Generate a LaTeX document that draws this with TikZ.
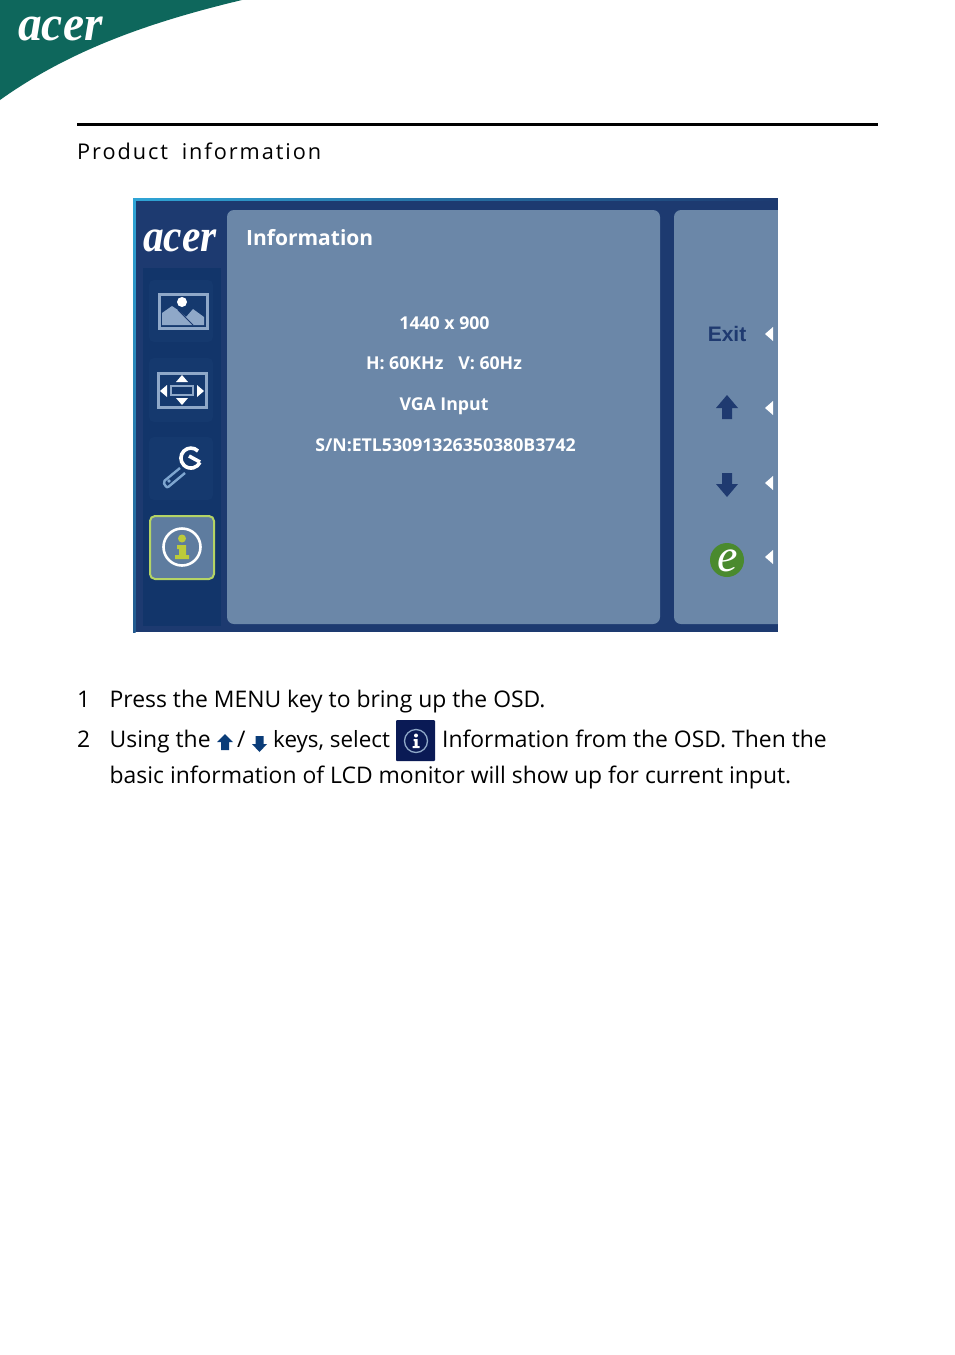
\documentclass[tikz,border=0pt]{standalone}
\usepackage{fontspec}
\setmainfont{Open Sans}
\newfontfamily\spacedfont[LetterSpace=9,WordSpace=1.8]{Open Sans}
\newfontfamily\logofont{Liberation Serif}
\newfontfamily\exitfont{Liberation Sans}
\definecolor{acergreen}{HTML}{0E675C}
\definecolor{osdnavy}{HTML}{1D3A70}
\definecolor{osdside}{HTML}{12356A}
\definecolor{osdtile}{HTML}{15396E}
\definecolor{osdpanel}{HTML}{6B87A8}
\definecolor{osdedge}{HTML}{2FA5D6}
\definecolor{osdicon}{HTML}{8FA8C8}
\definecolor{osdwrench}{HTML}{7EA6D0}
\definecolor{osdlime}{HTML}{B4D465}
\definecolor{osdyellow}{HTML}{BCCB3A}
\definecolor{osdinfo}{HTML}{5E7C9F}
\definecolor{osdarrow}{HTML}{1F3A70}
\definecolor{keyarrow}{HTML}{0A3C78}
\definecolor{keybox}{HTML}{0A1A55}
\definecolor{egreen}{HTML}{4A8A2E}
\begin{document}
\begin{tikzpicture}[x=1pt,y=-1pt]
\tikzstyle{every node}+=[inner sep=0pt]
\tikzstyle{bodytext}=[anchor=base west,font=\fontsize{22.9}{26}\selectfont]
\tikzstyle{osdtext}=[anchor=base,text=white,font=\fontsize{17.7}{20}\selectfont\bfseries]
\tikzstyle{osdrim}=[draw=osdicon,line width=3pt]
\useasboundingbox (0,0) rectangle (954,1355);
\fill [white] (0,0) rectangle (954,1355);
\fill [acergreen] (0,0) -- (242,0) .. controls (150,22) and (70,50) .. (0,100) -- cycle;
\node (headlogo) [anchor=base west,text=white,xscale=.95,font=\fontsize{50}{50}\selectfont\logofont\itshape\bfseries] at (18,40) {acer};
\draw [black,line width=2.5pt] (77,124.5) -- (878,124.5);
\node (title) [anchor=base west,font=\fontsize{21.7}{26}\selectfont\spacedfont] at (77,159) {Product information};
\fill [osdnavy] (133,198) rectangle (778,632);
\shade [left color=osdedge,right color=osdnavy] (133,198) rectangle (778,200);
\shade [top color=osdedge,bottom color=osdnavy!70!osdedge] (133,198) rectangle (135.5,632);
\fill [osdside] (143,268) rectangle (221,626);
\fill [osdtile,rounded corners=5pt] (149,280) rectangle (213,342);
\fill [osdtile,rounded corners=5pt] (149,358) rectangle (213,422);
\fill [osdtile,rounded corners=5pt] (149,437) rectangle (213,500);
\fill [osdpanel,rounded corners=7pt] (227,210) rectangle (660,624);
\fill [osdpanel] (781,210) -- (781,624) [rounded corners=7pt] -- (674,624) -- (674,210) [sharp corners] -- cycle;
\fill [white] (778,198) rectangle (782,632);
\node (osdlogo) [anchor=base west,text=white,xscale=.9,font=\fontsize{46}{46}\selectfont\logofont\itshape\bfseries] at (143,251) {acer};
\fill [osdicon] (162,313) -- (172,306) -- (178,310) -- (186,317) -- (193,309) -- (204,317) -- (204,325) -- (162,325) -- cycle;
\draw [osdnavy,line width=1pt] (178,310) -- (193,325);
\fill [white] (182,302) circle (5);
\draw [osdrim] (159,294) rectangle (207,328);
\draw [osdrim] (158,373) rectangle (206,407);
\draw [osdicon,line width=2.4pt] (171,386) rectangle (193,395);
\fill [white] (182,375) -- (188,382) -- (176,382) -- cycle;
\fill [white] (182,405) -- (188,398) -- (176,398) -- cycle;
\fill [white] (160,391) -- (167,385) -- (167,397) -- cycle;
\fill [white] (204,391) -- (197,385) -- (197,397) -- cycle;
\draw [white,line width=3.6pt] (198,451) arc (-45:-335:10);
\draw [white,line width=3.6pt] (189,456) -- (200,462);
\draw [osdwrench,line width=2.4pt,rounded corners=2pt] (180,468) -- (163,482) -- (167,488) -- (185,473);
\fill [osdwrench] (169,481) circle (1.8);
\draw [osdlime,line width=2pt,fill=osdinfo,rounded corners=5pt] (150,516) rectangle (214,579);
\draw [white,line width=2.6pt] (182,547) circle (18.5);
\fill [osdyellow] (182,538.5) circle (4);
\fill [osdyellow] (177,545) -- (186,545) -- (186,555) -- (189,555) -- (189,559) -- (175,559) -- (175,555) -- (179,555) -- (179,549) -- (177,549) -- cycle;
\node (osdhead) [anchor=base west,text=white,font=\fontsize{21}{26}\selectfont\bfseries] at (246,245) {Information};
\node (osdres) [osdtext] at (444.5,329) {1440 x 900};
\node (osdfreq) [osdtext] at (444,369) {H: 60KHz\hspace{15pt}V: 60Hz};
\node (osdinput) [osdtext] at (444,410) {VGA Input};
\node (osdserial) [osdtext] at (445.5,451) {S/N:ETL53091326350380B3742};
\node (osdexit) [anchor=base,text=osdarrow,font=\fontsize{21}{26}\selectfont\exitfont\bfseries] at (727,341) {Exit};
\fill [osdarrow] (727,395) -- (738,408) -- (732,408) -- (732,419) -- (722,419) -- (722,408) -- (716,408) -- cycle;
\fill [osdarrow] (727,497) -- (738,484) -- (732,484) -- (732,473) -- (722,473) -- (722,484) -- (716,484) -- cycle;
\fill [egreen] (727,560) circle (17);
\node (osde) [text=white,font=\fontsize{46}{46}\selectfont\logofont\itshape] at (728,561) {e};
\foreach \tipy in {334,408,483,557}
  \fill [white] (765,\tipy) -- (773,\tipy-7) -- (773,\tipy+7) -- cycle;
\node (stepone) [bodytext] at (77,707) {1};
\node (steponetext) [bodytext] at (109.5,707) {Press the MENU key to bring up the OSD.};
\node (steptwo) [bodytext] at (77,747) {2};
\node (usingthe) [bodytext] at (109.5,747) {Using the};
\fill [keyarrow] (225,734) -- (233,742) -- (229,742) -- (229,750) -- (221,750) -- (221,742) -- (217,742) -- cycle;
\node (slash) [bodytext] at (237,747) {/};
\fill [keyarrow] (259.5,752) -- (267,744) -- (263.5,744) -- (263.5,736) -- (255.5,736) -- (255.5,744) -- (252,744) -- cycle;
\node (keyselect) [bodytext,font=\fontsize{22.4}{26}\selectfont] at (273,747) {keys, select};
\fill [keybox,rounded corners=1pt] (396,720) rectangle (435,761);
\draw [osdicon,line width=1.3pt] (416,741) circle (11.5);
\fill [white] (416,735.5) circle (2);
\fill [white] (413.5,739) -- (417.5,739) -- (417.5,746) -- (419.5,746) -- (419.5,748) -- (412.5,748) -- (412.5,746) -- (414.5,746) -- (414.5,741) -- (413.5,741) -- cycle;
\node (infofrom) [bodytext] at (442,747) {Information from the OSD. Then the};
\node (basicinfo) [bodytext] at (109.5,783) {basic information of LCD monitor will show up for current input.};
\end{tikzpicture}
\end{document}
